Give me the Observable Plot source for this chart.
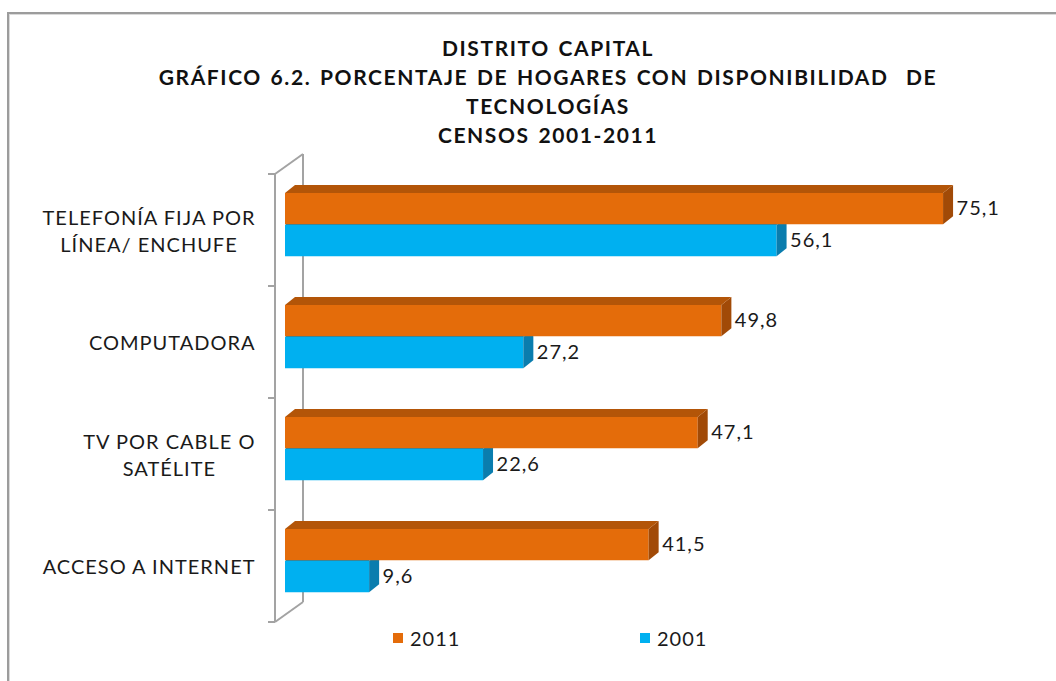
<!DOCTYPE html>
<html>
<head>
<meta charset="utf-8">
<script src="https://cdn.jsdelivr.net/npm/d3@7"></script>
<script src="https://cdn.jsdelivr.net/npm/@observablehq/plot@0.6"></script>
<style>
html, body { margin: 0; padding: 0; background: #fff; overflow: hidden; }
body { width: 1056px; height: 681px; position: relative; font-family: Lato, "Open Sans", sans-serif; color: #1a1a1a; }
#frame { position: absolute; left: 7px; top: 12px; width: 1100px; height: 720px;
  border-left: 2px solid #9c9c9c; border-top: 2px solid #9c9c9c; box-shadow: inset 1px 1px 0 #dadada; }
#title { position: absolute; left: 0; width: 1096px; top: 33px; text-align: center; font-weight: bold;
  font-size: 21px; line-height: 29px; color: #111; letter-spacing: 1.6px; word-spacing: 2px; }
#chart { position: absolute; left: 0; top: 140px; }
#chart text { letter-spacing: 1px; }
.sw { position: absolute; width: 10px; height: 10px; top: 633px; }
.lg { position: absolute; top: 626px; font-size: 20px; line-height: 24px; letter-spacing: 1px; }
</style>
</head>
<body>
<div id="frame"></div>
<div id="title">DISTRITO CAPITAL<br>GRÁFICO 6.2. PORCENTAJE DE HOGARES CON DISPONIBILIDAD&nbsp; DE<br>TECNOLOGÍAS<br>CENSOS 2001-2011</div>
<div id="chart"></div>
<div class="sw" style="left:393px;background:#E46C0A"></div><div class="lg" style="left:410px">2011</div>
<div class="sw" style="left:640px;background:#00B0F0"></div><div class="lg" style="left:657px">2001</div>
<script>
const categories = ["TELEFONÍA FIJA POR\nLÍNEA/ ENCHUFE", "COMPUTADORA", "TV POR CABLE O\nSATÉLITE", "ACCESO A INTERNET"];
const values2011 = [75.1, 49.8, 47.1, 41.5];
const values2001 = [56.1, 27.2, 22.6, 9.6];

const rows2011 = categories.map((c, i) => ({cat: c, year: "2011", value: values2011[i]}));
const rows2001 = categories.map((c, i) => ({cat: c, year: "2001", value: values2001[i]}));
const fmt = v => v.toFixed(1).replace(".", ",");
const NS = "http://www.w3.org/2000/svg";

function poly(parent, pts, fill) {
  const p = document.createElementNS(NS, "polygon");
  p.setAttribute("points", pts.map(q => q.join(",")).join(" "));
  p.setAttribute("fill", fill);
  parent.appendChild(p);
}

function bar3d(rows, front, topC, sideC, insetTop, insetBottom) {
  return Plot.barX(rows, {
    x: "value", y: "cat", fill: front, insetTop, insetBottom,
    render(index, scales, values, dimensions, context, next) {
      const g = next(index, scales, values, dimensions, context);
      const D = 10, H = 8;
      for (const r of Array.from(g.querySelectorAll("rect"))) {
        const x = +r.getAttribute("x"), y = +r.getAttribute("y");
        const w = +r.getAttribute("width"), h = +r.getAttribute("height");
        const par = r.parentNode;
        poly(par, [[x + w, y], [x + w + D, y - H], [x + w + D, y + h - H], [x + w, y + h]], sideC);
        poly(par, [[x, y], [x + w, y], [x + w + D, y - H], [x + D, y - H]], topC);
      }
      return g;
    }
  });
}

function wall(index, scales) {
  const y = scales.y, x = scales.x;
  const bw = typeof y.bandwidth === "function" ? y.bandwidth() : scales.scales.y.bandwidth;
  const x0 = x(0);
  const yTop = y(categories[0]);
  const yBot = y(categories[categories.length - 1]) + bw;
  const fx = x0 - 10, bx = x0 + 18, up = 20;
  const g = document.createElementNS(NS, "g");
  g.setAttribute("stroke", "#a3a3a3");
  g.setAttribute("stroke-width", "2");
  g.setAttribute("fill", "none");
  const line = (x1, y1, x2, y2) => {
    const l = document.createElementNS(NS, "line");
    l.setAttribute("x1", x1); l.setAttribute("y1", y1);
    l.setAttribute("x2", x2); l.setAttribute("y2", y2);
    g.appendChild(l);
  };
  line(fx, yTop, fx, yBot);
  line(bx, yTop - up, bx, yBot - up);
  line(fx, yTop, bx, yTop - up);
  line(fx, yBot, bx, yBot - up);
  const bounds = categories.map(c => y(c)).concat([yBot]);
  for (const b of bounds) line(fx - 7, b, fx, b);
  return g;
}

const plot = Plot.plot({
  width: 1056,
  height: 490,
  marginLeft: 285,
  marginRight: 70,
  marginTop: 32,
  marginBottom: 7,
  style: {fontFamily: "Lato, 'Open Sans', sans-serif", color: "#1a1a1a", background: "transparent"},
  x: {domain: [0, 80], axis: null},
  y: {domain: categories, padding: 0, axis: null},
  marks: [
    wall,
    bar3d(rows2001, "#00B0F0", "#0A8CC0", "#0A7DAE", 51, 29.75),
    bar3d(rows2011, "#E46C0A", "#B35508", "#A14A07", 19, 61.75),
    Plot.text(rows2011, {x: "value", y: "cat", text: d => fmt(d.value), textAnchor: "start", dx: 13, dy: -22, fontSize: 20}),
    Plot.text(rows2001, {x: "value", y: "cat", text: d => fmt(d.value), textAnchor: "start", dx: 13, dy: 10, fontSize: 20}),
    Plot.text(categories, {
      y: d => d, text: d => d, frameAnchor: "left", dx: -30, dy: -1, textAnchor: "end",
      lineHeight: 1.35, fontSize: 20,
      render(index, scales, values, dimensions, context, next) {
        const g = next(index, scales, values, dimensions, context);
        g.setAttribute("class", "catlabels");
        return g;
      }
    })
  ]
});
document.getElementById("chart").appendChild(plot);

// center multi-line labels within their right-aligned block
for (const t of Array.from(plot.querySelectorAll(".catlabels text"))) {
  const spans = t.querySelectorAll("tspan");
  if (spans.length < 2) continue;
  const W = t.getBBox().width;
  t.setAttribute("text-anchor", "middle");
  for (const s of Array.from(spans)) s.setAttribute("x", -W / 2);
}
</script>
</body>
</html>
